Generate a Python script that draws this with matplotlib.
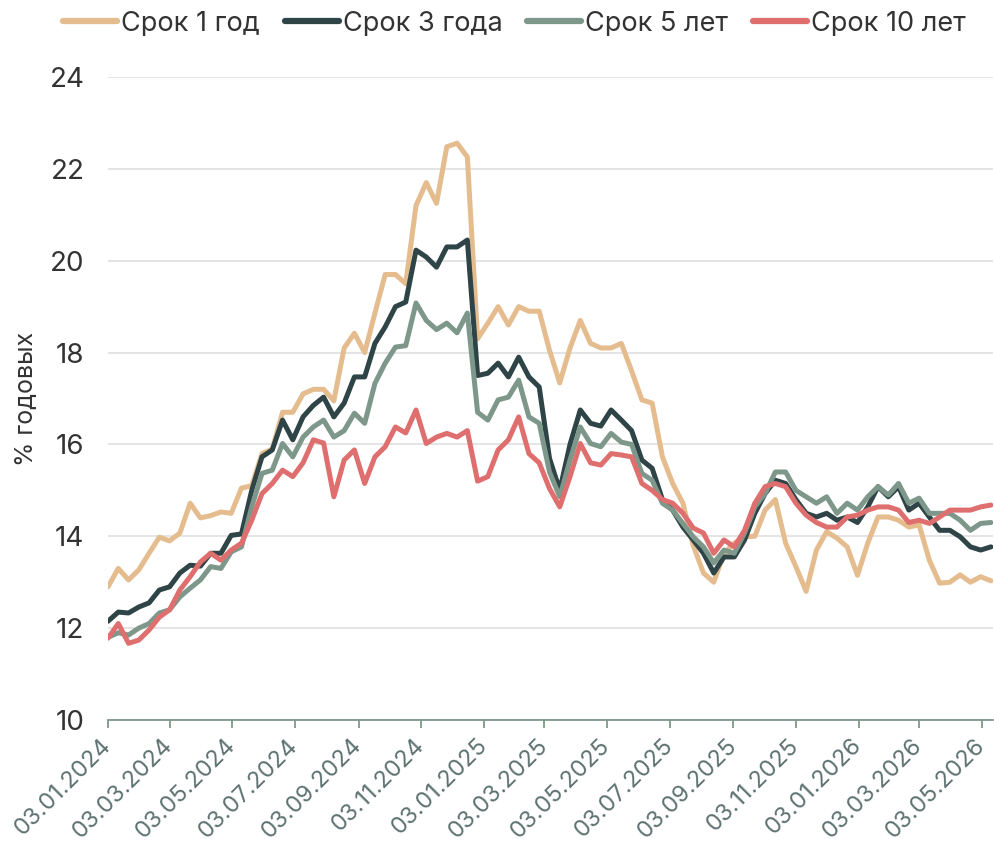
import numpy as np
import pandas as pd
import matplotlib
matplotlib.use("Agg")
import matplotlib.pyplot as plt
import matplotlib.dates as mdates

plt.rcParams['font.family'] = ['Inter', 'DejaVu Sans']

# x: every 10 days from 03.01.2024
dates = pd.date_range('2024-01-03', periods=87, freq='10D')

# values, % годовых
y1 = [12.9, 13.3, 13.05, 13.27, 13.63, 13.98, 13.9, 14.07, 14.72, 14.4,
      14.45, 14.53, 14.5, 15.05, 15.1, 15.8, 15.9, 16.7, 16.7, 17.1,
      17.2, 17.2, 16.95, 18.1, 18.42, 18.0, 18.86, 19.7, 19.7, 19.5,
      21.2, 21.7, 21.25, 22.48, 22.56, 22.26, 18.3, 18.64, 19.0, 18.6,
      19.0, 18.9, 18.9, 18.05, 17.34, 18.1, 18.7, 18.2, 18.1, 18.1,
      18.2, 17.6, 16.97, 16.9, 15.73, 15.15, 14.72, 13.8, 13.2, 13.0,
      13.63, 13.85, 13.99, 14.0, 14.57, 14.8, 13.85, 13.34, 12.8, 13.7,
      14.1, 13.96, 13.77, 13.15, 13.85, 14.42, 14.42, 14.35, 14.2, 14.25,
      13.48, 12.98, 13.0, 13.16, 13.0, 13.12, 13.03]
y3 = [12.15, 12.35, 12.33, 12.46, 12.55, 12.83, 12.9, 13.2, 13.37, 13.35,
      13.63, 13.63, 14.02, 14.05, 15.0, 15.73, 15.88, 16.53, 16.1, 16.6,
      16.85, 17.03, 16.6, 16.9, 17.47, 17.47, 18.2, 18.56, 19.0, 19.1,
      20.23, 20.08, 19.86, 20.3, 20.3, 20.45, 17.5, 17.55, 17.77, 17.47,
      17.9, 17.47, 17.25, 15.7, 15.0, 16.0, 16.75, 16.46, 16.4, 16.75,
      16.53, 16.3, 15.66, 15.48, 14.8, 14.57, 14.2, 13.92, 13.63, 13.2,
      13.55, 13.55, 13.92, 14.5, 14.93, 15.22, 15.15, 14.8, 14.5, 14.42,
      14.5, 14.35, 14.42, 14.3, 14.64, 15.08, 14.86, 15.08, 14.57, 14.72,
      14.42, 14.13, 14.13, 13.99, 13.77, 13.7, 13.77]
y5 = [11.8, 11.9, 11.85, 12.0, 12.1, 12.33, 12.4, 12.68, 12.87, 13.05,
      13.34, 13.3, 13.66, 13.77, 14.64, 15.37, 15.44, 16.02, 15.73, 16.16,
      16.38, 16.53, 16.16, 16.3, 16.68, 16.46, 17.33, 17.77, 18.12, 18.15,
      19.08, 18.7, 18.5, 18.64, 18.43, 18.86, 16.7, 16.53, 16.97, 17.03,
      17.4, 16.6, 16.46, 15.4, 14.86, 15.66, 16.38, 16.02, 15.95, 16.24,
      16.05, 16.0, 15.37, 15.22, 14.72, 14.57, 14.28, 13.99, 13.77, 13.42,
      13.7, 13.63, 14.07, 14.64, 14.93, 15.4, 15.4, 15.0, 14.86, 14.72,
      14.86, 14.5, 14.72, 14.57, 14.86, 15.08, 14.9, 15.15, 14.72, 14.83,
      14.5, 14.5, 14.5, 14.35, 14.13, 14.28, 14.3]
y10 = [11.78, 12.1, 11.67, 11.74, 11.96, 12.24, 12.4, 12.83, 13.12, 13.44,
       13.63, 13.48, 13.7, 13.85, 14.35, 14.93, 15.15, 15.44, 15.3, 15.6,
       16.1, 16.03, 14.86, 15.66, 15.88, 15.15, 15.73, 15.95, 16.38, 16.25,
       16.75, 16.02, 16.16, 16.24, 16.16, 16.3, 15.2, 15.3, 15.88, 16.1,
       16.6, 15.8, 15.6, 15.04, 14.64, 15.3, 16.02, 15.6, 15.55, 15.8,
       15.77, 15.73, 15.15, 15.0, 14.8, 14.72, 14.5, 14.18, 14.07, 13.63,
       13.92, 13.77, 14.13, 14.72, 15.08, 15.15, 15.08, 14.72, 14.46, 14.3,
       14.2, 14.2, 14.42, 14.46, 14.57, 14.64, 14.64, 14.57, 14.3, 14.35,
       14.28, 14.42, 14.57, 14.57, 14.57, 14.64, 14.68]

labels = ['Срок 1 год', 'Срок 3 года', 'Срок 5 лет', 'Срок 10 лет']
colors = ['#e4bc8e', '#2f4447', '#7e978b', '#df6e6e']
ticks = pd.date_range('2024-01-01', '2026-05-01', freq='2MS') + pd.Timedelta(days=2)

fig = plt.figure(figsize=(9.95, 8.51), dpi=100)
ax = fig.add_axes([108 / 995, 1 - 720 / 851, (993 - 108) / 995, (720 - 77) / 851])

for y, lab, c in zip([y1, y3, y5, y10], labels, colors):
    ax.plot(dates, y, color=c, lw=3.6, label=lab,
            solid_joinstyle='round', solid_capstyle='round')

ax.set_ylim(10, 24)
ax.set_yticks(range(10, 25, 2))
ax.set_xlim(pd.Timestamp('2024-01-03'), pd.Timestamp('2026-05-14'))
ax.set_xticks(ticks)
ax.xaxis.set_major_formatter(mdates.DateFormatter('%d.%m.%Y'))

ax.grid(axis='y', color='#e2e2e2', lw=1.3)
ax.set_axisbelow(True)
for s in ['top', 'right', 'left']:
    ax.spines[s].set_visible(False)
ax.spines['bottom'].set_color('#7e978b')
ax.spines['bottom'].set_linewidth(1.3)
ax.tick_params(axis='x', colors='#7e978b', length=6, width=1.3,
               labelcolor='#5d7270', labelsize=17, pad=10)
ax.tick_params(axis='y', length=0, labelsize=20, labelcolor='#333333', pad=17)
for t in ax.get_xticklabels():
    t.set_rotation(45)
    t.set_ha('right')
    t.set_va('center')
    t.set_rotation_mode('anchor')

ax.set_ylabel('% годовых', fontsize=18, color='#333333', labelpad=8)

leg = fig.legend(loc='center', bbox_to_anchor=(0.517, 0.972), ncol=4, frameon=False,
                 fontsize=19.5, handlelength=2.0, handletextpad=0.15,
                 columnspacing=0.9, labelcolor='#333333')
for h in leg.get_lines():
    h.set_linewidth(4.5)

fig.savefig('out.png', dpi=100)
